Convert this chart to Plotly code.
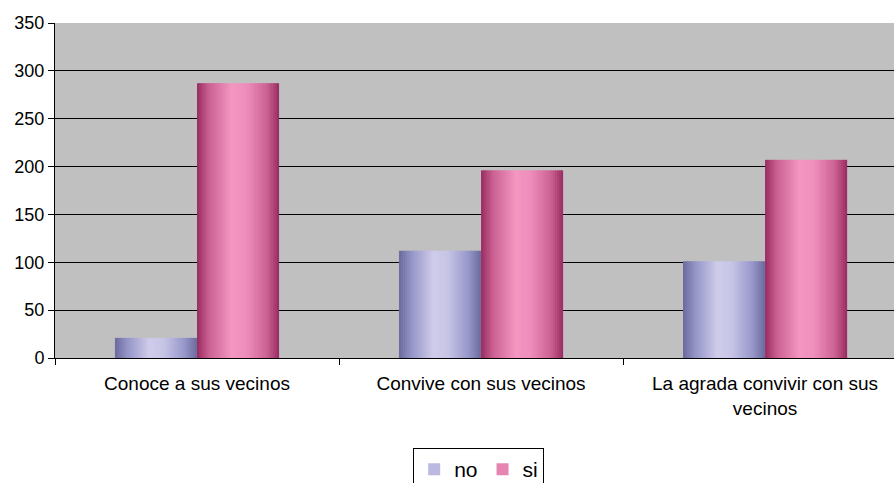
import plotly.graph_objects as go

categories = ["Conoce a sus vecinos", "Convive con sus vecinos",
              "La agrada convivir con sus<br>vecinos"]
no_vals = [21, 112, 101]
si_vals = [287, 196, 207]
y_ticks = [0, 50, 100, 150, 200, 250, 300, 350]

# gradient stops (position across bar, rgb)
grad = {
    "no": [(0.0, (106, 106, 156)), (0.15, (148, 148, 200)), (0.42, (207, 204, 234)),
           (0.6, (198, 196, 228)), (0.85, (150, 150, 202)), (1.0, (106, 106, 156))],
    "si": [(0.0, (152, 44, 96)), (0.15, (204, 98, 148)), (0.42, (243, 150, 192)),
           (0.6, (238, 142, 188)), (0.85, (204, 98, 148)), (1.0, (152, 44, 96))],
}


def grad_color(stops, t):
    for (t0, c0), (t1, c1) in zip(stops, stops[1:]):
        if t0 <= t <= t1:
            f = (t - t0) / (t1 - t0)
            c = [round(a + (b - a) * f) for a, b in zip(c0, c1)]
            return f"rgb({c[0]},{c[1]},{c[2]})"
    return f"rgb{stops[-1][1]}"


bar_w = 0.289
n_strips = 41
s = bar_w / n_strips

fig = go.Figure()
for k, (name, vals) in enumerate([("no", no_vals), ("si", si_vals)]):
    start = -bar_w + k * bar_w
    for i in range(n_strips):
        t = (i + 0.5) / n_strips
        w = s * 1.6 if i < n_strips - 1 else s
        fig.add_trace(go.Bar(
            x=categories, y=vals, name=name,
            width=w, offset=start + i * s,
            marker=dict(color=grad_color(grad[name], t), line=dict(width=0)),
            showlegend=(i == n_strips // 3), legendgroup=name,
            hoverinfo="y",
        ))

fig.update_layout(
    width=894, height=483,
    barmode="overlay",
    paper_bgcolor="white",
    plot_bgcolor="#C0C0C0",
    margin=dict(l=55, r=0, t=23, b=125),
    font=dict(family="Liberation Sans, Arial, sans-serif", color="black", size=18),
    legend=dict(
        orientation="h", x=0.505, xanchor="center",
        yref="container", y=1 - 448 / 483, yanchor="top",
        bordercolor="black", borderwidth=1, bgcolor="white",
        font=dict(size=21), itemwidth=30, traceorder="normal",
    ),
    xaxis=dict(
        type="category", range=[-0.5, 2.454], automargin=False,
        showline=True, linecolor="black", linewidth=1,
        ticks="outside", tickson="boundaries", ticklen=6, tickcolor="black",
        showgrid=False, ticklabelstandoff=8, tickfont=dict(size=19),
    ),
    yaxis=dict(
        range=[0, 350], tickvals=y_ticks, automargin=False,
        showline=True, linecolor="black", linewidth=1,
        ticks="outside", ticklen=6, tickcolor="black", tickfont=dict(size=18),
        showgrid=True, gridcolor="black", gridwidth=1, zeroline=False,
    ),
)

# page has a default 8px body margin; drop it so the chart sits at 0,0
fig.write_html("out.html", config={"displayModeBar": False},
               post_script="document.body.style.margin='0';")
